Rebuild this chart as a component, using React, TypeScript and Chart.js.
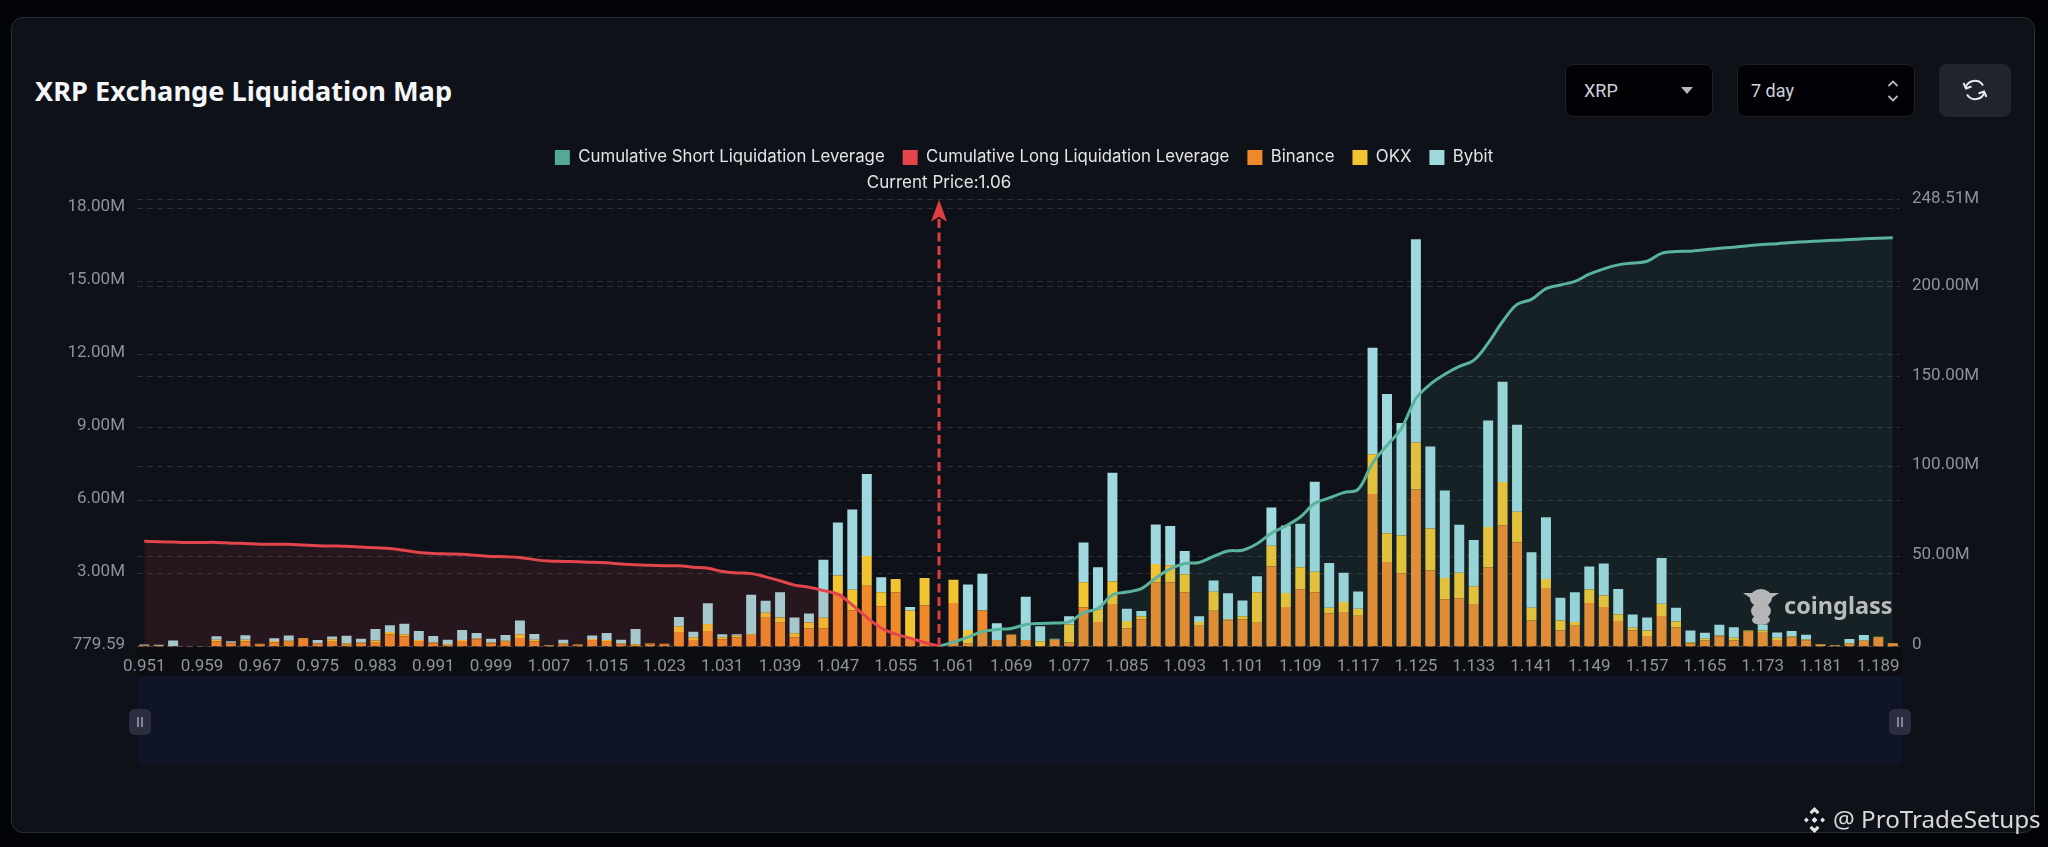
import React, { useEffect, useRef } from "react";
import { Chart, registerables } from "chart.js";

Chart.register(...registerables);

const categories = [
  "0.951","0.953","0.955","0.957","0.959","0.961","0.963","0.965","0.967","0.969",
  "0.971","0.973","0.975","0.977","0.979","0.981","0.983","0.985","0.987","0.989",
  "0.991","0.993","0.995","0.997","0.999","1.001","1.003","1.005","1.007","1.009",
  "1.011","1.013","1.015","1.017","1.019","1.021","1.023","1.025","1.027","1.029",
  "1.031","1.033","1.035","1.037","1.039","1.041","1.043","1.045","1.047","1.049",
  "1.051","1.053","1.055","1.057","1.059","1.06","1.061","1.063","1.065","1.067",
  "1.069","1.071","1.073","1.075","1.077","1.079","1.081","1.083","1.085","1.087",
  "1.089","1.091","1.093","1.095","1.097","1.099","1.101","1.103","1.105","1.107",
  "1.109","1.111","1.113","1.115","1.117","1.119","1.121","1.123","1.125","1.127",
  "1.129","1.131","1.133","1.135","1.137","1.139","1.141","1.143","1.145","1.147",
  "1.149","1.151","1.153","1.155","1.157","1.159","1.161","1.163","1.165","1.167",
  "1.169","1.171","1.173","1.175","1.177","1.179","1.181","1.183","1.185","1.187",
  "1.189","1.191",
];

const binance = [
  0.03,0.02,0.02,0.005,0.005,0.2,0.12,0.21,0.08,0.16,
  0.19,0.32,0.12,0.19,0.07,0.12,0.15,0.49,0.41,0.22,
  0.12,0.06,0.22,0.29,0.12,0.19,0.35,0.21,0.03,0.09,
  0.05,0.26,0.22,0.09,0.06,0.09,0.09,0.59,0.26,0.63,
  0.29,0.38,0.47,1.18,0.97,0.38,0.74,0.75,2.19,1.49,
  2.49,1.65,2.22,0.31,1.68,0,1.78,0.13,1.47,0.26,
  0.49,0.26,0.02,0.28,0.16,1.6,1.0,1.74,0.75,1.12,
  2.62,2.62,2.22,0.85,1.46,1.06,1.12,0.97,3.29,1.62,
  2.35,2.22,1.35,1.41,1.26,6.26,3.47,2.99,6.44,3.12,
  1.94,1.97,1.71,3.24,4.97,4.28,1.06,2.4,0.65,0.85,
  1.78,1.62,1.04,0.65,0.43,1.25,0.78,0.12,0.24,0.41,
  0.24,0.6,0.56,0.26,0.38,0.25,0.08,0.05,0.11,0.22,
  0.36,0.12,
];

const okx = [
  0.02,0.01,0,0.005,0.005,0.07,0.03,0.06,0.03,0.06,
  0.04,0.03,0.01,0.1,0.05,0.04,0.09,0.1,0.09,0.04,
  0.04,0.03,0.04,0.04,0.04,0.04,0.15,0.06,0.01,0.03,
  0.03,0.04,0.04,0.03,0.03,0.03,0.02,0.24,0.12,0.29,
  0.09,0.06,0.03,0.2,0.22,0.16,0.24,0.43,0.72,0.84,
  1.22,0.57,0.55,1.16,1.13,0,0.96,0.54,0,0,
  0,0,0.19,0,0.74,1.04,0.53,0.93,0.29,0.12,
  0.76,0.71,0.74,0.15,0.78,0.06,0.12,1.25,0.84,0.57,
  0.9,0.85,0.24,0.41,0.29,1.63,1.18,1.56,1.93,1.72,
  0.87,1.06,0.76,1.66,1.78,1.25,0.53,0.37,0.41,0.15,
  0.56,0.47,0.28,0.12,0.22,0.5,0.24,0.04,0.07,0.04,
  0.12,0.05,0.09,0.1,0.03,0.03,0.02,0.01,0.02,0.02,
  0.04,0.02,
];

const bybit = [
  0.03,0.04,0.22,0,0,0.15,0.06,0.19,0,0.12,
  0.22,0,0.13,0.12,0.32,0.15,0.48,0.28,0.43,0.37,
  0.27,0.18,0.41,0.22,0.15,0.24,0.56,0.24,0.02,0.15,
  0,0.15,0.29,0.15,0.63,0,0,0.38,0.22,0.85,
  0.12,0.06,1.62,0.5,1.03,0.65,0.37,2.38,2.18,3.29,
  3.37,0.62,0,0.15,0,0,0,1.87,1.51,0.69,
  0,1.78,0.62,0.04,0.34,1.63,1.72,4.46,0.51,0.21,
  1.63,1.62,0.96,0.24,0.47,1.06,0.65,0.66,1.57,2.78,
  1.79,3.69,1.84,1.21,0.71,4.37,5.72,4.62,8.35,3.37,
  3.59,1.97,1.9,4.38,4.12,3.57,2.28,2.53,0.94,1.22,
  0.94,1.31,1.04,0.54,0.54,1.88,0.57,0.49,0.25,0.44,
  0.43,0,0.25,0.21,0.22,0.2,0,0,0.17,0.23,
  0,0,
];

const cumulativeLong = [
  58.46,58.26,58.06,57.86,57.86,57.86,57.46,57.26,56.86,56.86,
  56.86,56.46,56.07,55.87,55.67,55.27,54.87,54.47,53.47,52.27,
  51.68,51.48,51.28,50.68,50.08,49.88,49.48,48.28,47.49,47.29,
  47.09,46.89,46.49,45.89,45.49,45.09,44.89,44.89,44.09,43.5,
  41.7,40.9,40.5,38.7,36.5,34.1,32.9,31.1,29.1,23.1,
  16.2,10.2,6.8,4.6,2.2,0,
];

const cumulativeShort = [
  0,2.4,5.2,8.2,9.4,10,12.2,12.8,13,13.6,
  18.8,21.1,28.7,30.3,32.1,38.1,43.1,46.1,46.7,50.1,
  53.1,53.5,57.1,63,67,72,79.6,82.6,85.6,87.4,
  102,111.9,121.3,137.9,145.9,151.4,155.8,159.2,168.8,180.8,
  190.3,193.1,199.1,201.1,203.1,207.1,210.1,212.3,213.3,214.3,
  218.7,219.7,219.9,220.7,221.5,222.1,222.9,223.7,224.1,224.7,
  225.2,225.6,226,226.4,226.8,227.1,227.4,
];

const leftTicks = [0.00077959, 3, 6, 9, 12, 15, 18];
const rightTicks = [0, 50, 100, 150, 200, 248.51];
const currentPriceLabel = "1.06";

const longSeries = categories.map((_, i) => (i < cumulativeLong.length ? cumulativeLong[i] : null));
const shortSeries = categories.map((_, i) =>
  i >= cumulativeLong.length - 1 ? cumulativeShort[i - cumulativeLong.length + 1] ?? null : null
);

const currentPricePlugin = {
  id: "currentPrice",
  afterDatasetsDraw(chart: any) {
    const { ctx, scales, chartArea } = chart;
    const x = scales.x.getPixelForValue(categories.indexOf(currentPriceLabel));
    const top = chartArea.top;
    const bottom = chartArea.bottom;
    ctx.save();
    ctx.strokeStyle = "#dd3f44";
    ctx.fillStyle = "#dd3f44";
    ctx.lineWidth = 3;
    ctx.setLineDash([9, 4.5]);
    ctx.beginPath();
    ctx.moveTo(x, bottom);
    ctx.lineTo(x, top + 14);
    ctx.stroke();
    ctx.setLineDash([]);
    ctx.beginPath();
    ctx.moveTo(x, top);
    ctx.lineTo(x + 8, top + 22);
    ctx.lineTo(x, top + 17);
    ctx.lineTo(x - 8, top + 22);
    ctx.closePath();
    ctx.fill();
    ctx.fillStyle = "#e3e5e8";
    ctx.font = "17px Inter";
    ctx.textAlign = "center";
    ctx.textBaseline = "middle";
    ctx.fillText("Current Price:" + currentPriceLabel, x, 183);
    ctx.restore();
  },
};

const gridColor = "rgba(255,255,255,0.13)";
const tickColor = "#8f9399";

export default function App() {
  const ref = useRef<HTMLCanvasElement | null>(null);

  useEffect(() => {
    if (!ref.current) return;
    const chart = new Chart(ref.current, {
      type: "bar",
      data: {
        labels: categories,
        datasets: [
          {
            type: "line",
            label: "Cumulative Short Liquidation Leverage",
            data: shortSeries,
            yAxisID: "y1",
            borderColor: "#5ab39c",
            backgroundColor: "#53a993",
            borderWidth: 3,
            pointRadius: 0,
            tension: 0.35,
            order: 0,
            fill: { target: "origin", above: "rgba(90,179,156,0.1)", below: "rgba(90,179,156,0.1)" },
          },
          {
            type: "line",
            label: "Cumulative Long Liquidation Leverage",
            data: longSeries,
            yAxisID: "y1",
            borderColor: "#e2454b",
            backgroundColor: "#e2454b",
            borderWidth: 3,
            pointRadius: 0,
            tension: 0.35,
            order: 0,
            fill: { target: "origin", above: "rgba(226,69,75,0.11)", below: "rgba(226,69,75,0.11)" },
          },
          { label: "Binance", data: binance, backgroundColor: "#ef8a2b", yAxisID: "y", order: 1, barPercentage: 0.69, categoryPercentage: 1 },
          { label: "OKX", data: okx, backgroundColor: "#f2c431", yAxisID: "y", order: 1, barPercentage: 0.69, categoryPercentage: 1 },
          { label: "Bybit", data: bybit, backgroundColor: "#9fd8de", yAxisID: "y", order: 1, barPercentage: 0.69, categoryPercentage: 1 },
        ] as any,
      },
      options: {
        responsive: false,
        animation: false,
        events: [],
        layout: { padding: { top: 131, left: 0, right: 0, bottom: 0 } },
        plugins: {
          tooltip: { enabled: false },
          title: { display: true, text: "", weight: 500, padding: 0, font: { size: 16, lineHeight: 1.5 } } as any,
          legend: {
            display: true,
            position: "top",
            labels: {
              color: "#e3e5e8",
              boxWidth: 15,
              boxHeight: 15,
              padding: 18,
              font: { family: "Inter", size: 16.8 },
              generateLabels(c: any) {
                return Chart.defaults.plugins.legend.labels.generateLabels(c).map((l: any) => ({ ...l, lineWidth: 0 }));
              },
            },
          },
        },
        scales: {
          x: {
            stacked: true,
            grid: { display: false },
            border: { display: false },
            afterFit(scale: any) {
              scale.height = 200.6;
            },
            ticks: {
              autoSkip: false,
              maxRotation: 0,
              minRotation: 0,
              padding: 2,
              color: tickColor,
              font: { family: "Roboto", size: 17 },
              callback(_: any, index: number) {
                return index % 4 === 0 ? categories[index] : "";
              },
            },
          },
          y: {
            stacked: true,
            position: "left",
            min: 0.00077959,
            max: 18.34,
            grid: { color: gridColor, drawTicks: false },
            border: { display: false, dash: [6, 4] },
            afterFit(scale: any) {
              scale.width = 137;
            },
            afterBuildTicks(scale: any) {
              scale.ticks = leftTicks.map((value) => ({ value }));
            },
            ticks: {
              padding: 12,
              labelOffset: -1.5,
              color: tickColor,
              font: { family: "Roboto", size: 17 },
              callback(v: any) {
                return v < 1 ? (v * 1e6).toFixed(2) : Number(v).toFixed(2) + "M";
              },
            },
          },
          y1: {
            stacked: false,
            position: "right",
            min: 0,
            max: 248.51,
            grid: { color: gridColor, drawTicks: false },
            border: { display: false, dash: [6, 4] },
            afterFit(scale: any) {
              scale.width = 148;
            },
            afterBuildTicks(scale: any) {
              scale.ticks = rightTicks.map((value) => ({ value }));
            },
            ticks: {
              padding: 12,
              labelOffset: -1.5,
              color: tickColor,
              font: { family: "Roboto", size: 17 },
              callback(v: any) {
                return v === 0 ? "0" : Number(v).toFixed(2) + "M";
              },
            },
          },
        },
      } as any,
      plugins: [currentPricePlugin],
    });
    return () => chart.destroy();
  }, []);

  const abs = (l: number, t: number, w: number, h: number): React.CSSProperties => ({
    position: "absolute",
    left: l,
    top: t,
    width: w,
    height: h,
    boxSizing: "border-box",
  });
  const selectStyle: React.CSSProperties = {
    background: "#020206",
    border: "1px solid #1e2026",
    borderRadius: 8,
    color: "#cfd2d8",
    font: "18px Roboto",
    lineHeight: "51px",
  };

  return (
    <div style={{ position: "fixed", left: 0, top: 0, width: 2048, height: 847, background: "#030408", overflow: "hidden" }}>
      <div style={{ ...abs(11, 17, 2024, 816), background: "#0e1118", border: "1px solid #2a2d33", borderRadius: 12 }} />
      <div style={{ ...abs(35, 70, 500, 42), color: "#f5f6f8", font: "bold 27.2px 'Noto Sans'", lineHeight: "42px", whiteSpace: "nowrap" }}>
        XRP Exchange Liquidation Map
      </div>
      <div style={{ ...abs(1565, 64, 148, 53), ...selectStyle, paddingLeft: 18 }}>XRP</div>
      <svg style={abs(1680, 86, 14, 9)} viewBox="0 0 14 9"><path d="M1 1h12L7 8z" fill="#b5b8be" /></svg>
      <div style={{ ...abs(1737, 64, 178, 53), ...selectStyle, paddingLeft: 13 }}>7 day</div>
      <svg style={abs(1886, 79, 14, 24)} viewBox="0 0 14 24">
        <path d="M2.5 7L7 2.5 11.5 7M2.5 17L7 21.5 11.5 17" stroke="#b5b8be" strokeWidth="1.8" fill="none" />
      </svg>
      <div style={{ ...abs(1939, 64, 72, 53), background: "#21242c", borderRadius: 8 }} />
      <svg style={abs(1962, 77, 26, 26)} viewBox="0 0 26 26" fill="none" stroke="#e8e9ec" strokeWidth="2">
        <path d="M3.5 11A9.6 9.6 0 0 1 21 8.5M22.5 15A9.6 9.6 0 0 1 5 17.5" />
        <path d="M1.5 6L4 11.5 9.5 9.5M24.5 20L22 14.5 16.5 16.5" />
      </svg>
      <div style={{ ...abs(137, 646, 1765, 30), background: "#0b0d12" }} />
      <div style={{ ...abs(138, 676, 1764, 89), background: "#0f1526" }} />
      {[129, 1889].map((l) => (
        <div key={l} style={{ ...abs(l, 709, 22, 26), background: "#2a2e3e", borderRadius: 6 }}>
          <div style={{ ...abs(8, 8, 2, 10), background: "#7f8494" }} />
          <div style={{ ...abs(12, 8, 2, 10), background: "#7f8494" }} />
        </div>
      ))}
      <canvas ref={ref} width={2048} height={847} style={{ ...abs(0, 0, 2048, 847), display: "block" }} />
      <svg style={abs(1743, 588, 36, 38)} viewBox="0 0 36 38" fill="#b4b5b7">
        <ellipse cx="18" cy="10" rx="11" ry="9" />
        <path d="M0 5l9 0 0 6zM36 5l-9 0 0 6z" />
        <ellipse cx="18" cy="23" rx="10" ry="8" />
        <ellipse cx="18" cy="32" rx="9" ry="5" />
      </svg>
      <div style={{ ...abs(1784, 587, 130, 36), color: "#b9bbbd", font: "bold 23.5px 'Noto Sans'", lineHeight: "36px" }}>coinglass</div>
      <svg style={abs(1800, 806, 29, 28)} viewBox="0 0 29 28" fill="#e4e5e7">
        <path d="M14.5 1l5 5-2.2 2.2-2.8-2.8-2.8 2.8L9.5 6z" />
        <path d="M14.5 27l5-5-2.2-2.2-2.8 2.8-2.8-2.8L9.5 22z" />
        <path d="M14.5 11l3 3-3 3-3-3z" />
        <path d="M4 14l2.4-2.4L8.8 14l-2.4 2.4zM20.2 14l2.4-2.4L25 14l-2.4 2.4z" />
      </svg>
      <div style={{ ...abs(1833, 800, 215, 38), color: "#d8d9db", font: "24.2px 'Noto Sans'", lineHeight: "38px", whiteSpace: "nowrap" }}>@ ProTradeSetups</div>
    </div>
  );
}
